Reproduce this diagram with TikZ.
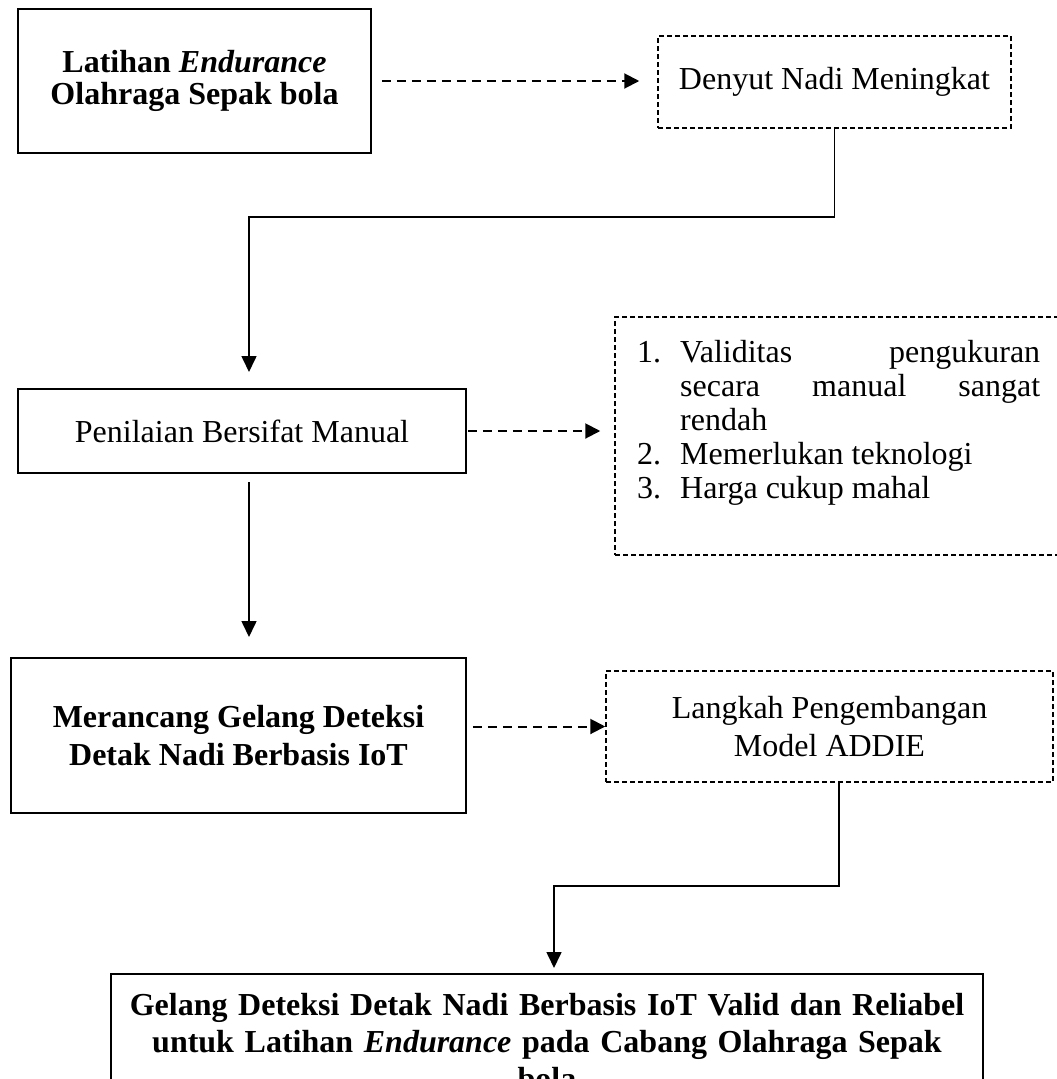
\documentclass[tikz,border=0pt]{standalone}
\usepackage{fontspec}
\setmainfont{Liberation Serif}
\usetikzlibrary{arrows.meta,calc}
\begin{document}
\begin{tikzpicture}[x=1pt,y=-1pt,
  every node/.style={font=\fontsize{32}{37}\selectfont, inner sep=0pt},
  solidbox/.style={draw, line width=1.6pt, align=center},
  dashbox/.style={draw, line width=1.5pt, dash pattern=on 5pt off 3pt, align=center},
  conn/.style={line width=1.6pt, -{Triangle[length=16pt,width=15pt]}},
  dashconn/.style={line width=2pt, dash pattern=on 9pt off 6pt, -{Triangle[length=15pt,width=15pt]}},
  listtxt/.style={anchor=base west, inner sep=0pt},
]
\useasboundingbox (0,0) rectangle (1057,1079);
\clip (0,0) rectangle (1057,1079);

% boxes
\node[solidbox, minimum width=353pt, minimum height=144pt,
      font=\fontsize{32}{32}\selectfont\bfseries] (b1) at (194.5,81)
      {Latihan \textit{Endurance}\\Olahraga Sepak bola};
\node[dashbox, minimum width=353pt, minimum height=92pt] (b2) at (834.5,82)
      {Denyut Nadi Meningkat};
\node[solidbox, minimum width=448pt, minimum height=84pt] (b3) at (242,431)
      {Penilaian Bersifat Manual};
\node[dashbox, minimum width=455pt, minimum height=238pt] (b4) at (842.5,436) {};
\node[solidbox, minimum width=455pt, minimum height=155pt,
      font=\fontsize{32}{38}\selectfont\bfseries] (b5) at (238.5,735.5)
      {Merancang Gelang Deteksi\\Detak Nadi Berbasis IoT};
\node[dashbox, minimum width=447pt, minimum height=111pt,
      font=\fontsize{32}{38}\selectfont] (b6) at (829.5,726.5)
      {Langkah Pengembangan\\Model ADDIE};
\node[solidbox, anchor=north, text width=864pt, inner xsep=4pt, inner ysep=19pt,
      font=\fontsize{32}{37}\selectfont\bfseries] (b7) at (547,973)
      {Gelang Deteksi Detak Nadi Berbasis IoT Valid dan Reliabel\\
       untuk Latihan \textit{Endurance} pada Cabang Olahraga Sepak\\
       bola};

% list inside b4
\node[listtxt] (n1) at (637,362) {1.};
\node[listtxt] (l1) at (680,362) {\makebox[360pt][s]{Validitas\hfill pengukuran}};
\node[listtxt] (l2) at (680,396) {\makebox[360pt][s]{secara\hfill manual\hfill sangat}};
\node[listtxt] (l3) at (680,430) {rendah};
\node[listtxt] (n2) at (637,464) {2.};
\node[listtxt] (l4) at (680,464) {Memerlukan teknologi};
\node[listtxt] (n3) at (637,498) {3.};
\node[listtxt] (l5) at (680,498) {Harga cukup mahal};

% connectors
\coordinate (j1) at (249,217);
\coordinate (t1) at (249,372);
\coordinate (s2) at (249,482);
\coordinate (t2) at (249,637);
\coordinate (j2) at (554,886);
\coordinate (t3) at (554,968);

\draw[dashconn] ([xshift=10pt]b1.east) -- ([xshift=-18pt]b1.east -| b2.west);
\draw[conn] (b2.south) |- (j1) -- (t1);
\draw[dashconn] ([xshift=1pt]b3.east) -- ([xshift=-14pt]b3.east -| b4.west);
\draw[conn] (s2) -- (t2);
\draw[dashconn] ([xshift=6pt]b5.east |- b6.west) -- (b6.west);
\draw[conn] ([xshift=9.5pt]b6.south) |- (j2) -- (t3);
\end{tikzpicture}
\end{document}
